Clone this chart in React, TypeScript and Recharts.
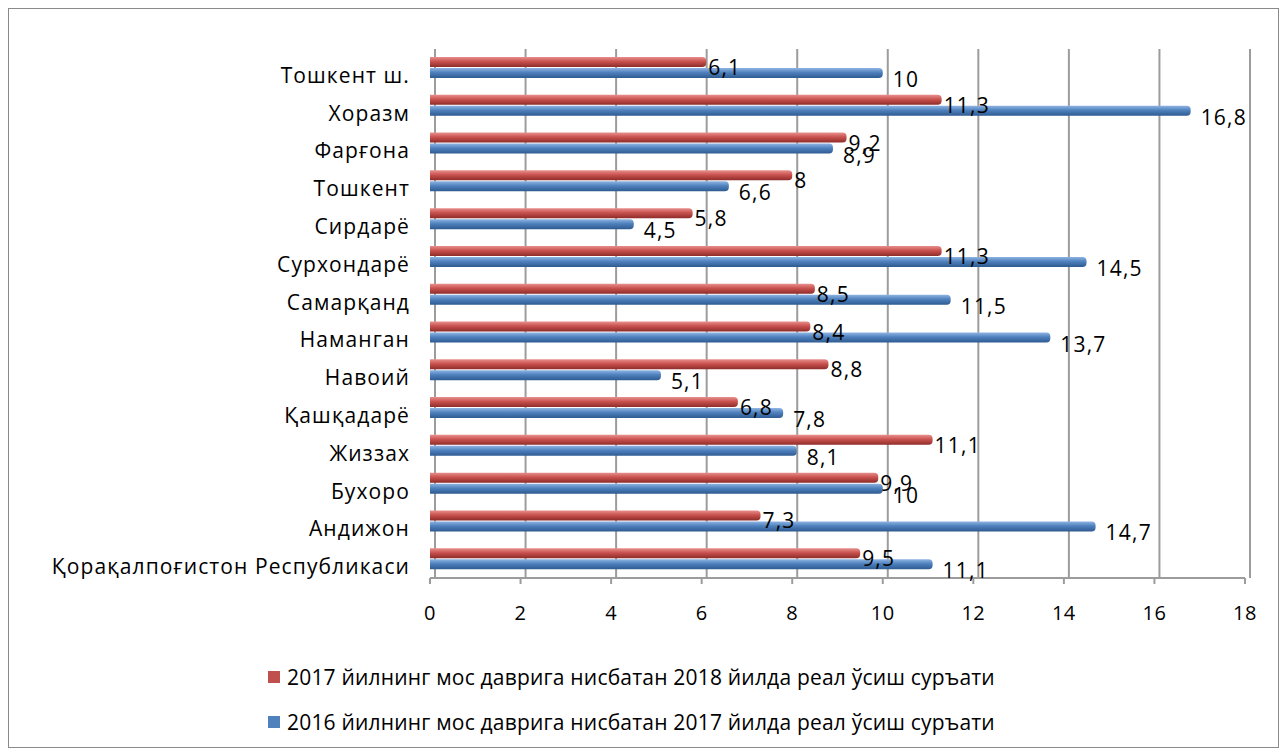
import React from 'react';
import { BarChart, Bar, XAxis, YAxis, CartesianGrid, Legend, LabelList } from 'recharts';

const categories = [
  'Тошкент ш.',
  'Хоразм',
  'Фарғона',
  'Тошкент',
  'Сирдарё',
  'Сурхондарё',
  'Самарқанд',
  'Наманган',
  'Навоий',
  'Қашқадарё',
  'Жиззах',
  'Бухоро',
  'Андижон',
  'Қорақалпоғистон Республикаси',
];
const series2018 = [6.1, 11.3, 9.2, 8, 5.8, 11.3, 8.5, 8.4, 8.8, 6.8, 11.1, 9.9, 7.3, 9.5];
const series2017 = [10, 16.8, 8.9, 6.6, 4.5, 14.5, 11.5, 13.7, 5.1, 7.8, 8.1, 10, 14.7, 11.1];
const seriesNames = [
  '2017 йилнинг мос даврига нисбатан 2018 йилда реал ўсиш суръати',
  '2016 йилнинг мос даврига нисбатан 2017 йилда реал ўсиш суръати',
];
const xTicks = [0, 2, 4, 6, 8, 10, 12, 14, 16, 18];
const xMax = 18;
const frameTicks = [0, 1, 2, 3, 4, 5, 6, 7, 8, 9, 10, 11, 12, 13, 14];

const data = categories.map((c, i) => ({ name: c, a: series2018[i], b: series2017[i] }));

const FONT = '"Open Sans", "Noto Sans", sans-serif';
const RED = '#C0504D';
const BLUE = '#4F81BD';
const GRID = '#9C9C9C';

const fmt = (v: number) => String(v).replace('.', ',');

const makeLabel = (offset: number, dy: number) => (props: any) => {
  const { x, y, width, height, value } = props;
  return (
    <text
      x={Number(x) + Number(width) + offset}
      y={Number(y) + Number(height) / 2 + dy}
      fontFamily={FONT}
      fontSize={21}
      letterSpacing={1.2}
      fill="#000"
      textAnchor="start"
      dominantBaseline="central"
    >
      {fmt(value)}
    </text>
  );
};

const CatTick = (props: any) => {
  const { x, y, payload } = props;
  return (
    <text
      x={x}
      y={y + 7}
      fontFamily={FONT}
      fontSize={21}
      letterSpacing={1.1}
      fill="#000"
      textAnchor="end"
      dominantBaseline="central"
    >
      {payload.value}
    </text>
  );
};

const renderLegend = () => (
  <div style={{ height: 109, position: 'relative', fontFamily: FONT, fontSize: 21, letterSpacing: 0.2, color: '#000' }}>
    <div style={{ position: 'absolute', left: 259, top: 25 }}>
      {[RED, BLUE].map((col, i) => (
        <div key={i} style={{ display: 'flex', alignItems: 'center', height: 28, marginBottom: 17, whiteSpace: 'nowrap' }}>
          <span style={{ display: 'inline-block', width: 12, height: 12, background: col, marginRight: 7 }} />
          <span>{seriesNames[i]}</span>
        </div>
      ))}
    </div>
  </div>
);

export default function App() {
  const gridGen = (props: any) => {
    const off = props && props.offset;
    if (!off) return [];
    return xTicks.map((t) => off.left + (t / xMax) * off.width + 5);
  };
  return (
    <div
      style={{
        width: 1271,
        height: 740,
        border: '1px solid #8a8a8a',
        boxSizing: 'border-box',
        background: '#fff',
      }}
    >
      <BarChart
        width={1269}
        height={738}
        data={data}
        layout="vertical"
        margin={{ top: 40, right: 33, bottom: 0, left: 0 }}
        barSize={10}
        barGap={1}
      >
        <defs>
          <linearGradient id="gRed" x1="0" y1="0" x2="0" y2="1">
            <stop offset="0%" stopColor="#E8908D" />
            <stop offset="45%" stopColor="#C9524F" />
            <stop offset="100%" stopColor="#8E2C2A" />
          </linearGradient>
          <linearGradient id="gBlue" x1="0" y1="0" x2="0" y2="1">
            <stop offset="0%" stopColor="#8FB4E3" />
            <stop offset="45%" stopColor="#4F81BD" />
            <stop offset="100%" stopColor="#2E5A91" />
          </linearGradient>
        </defs>
        <CartesianGrid
          horizontal={false}
          vertical={true}
          stroke={GRID}
          strokeWidth={2}
          verticalCoordinatesGenerator={gridGen}
        />
        <XAxis
          type="number"
          domain={[0, xMax]}
          ticks={xTicks}
          interval={0}
          height={60}
          axisLine={{ stroke: GRID, strokeWidth: 2 }}
          tickLine={{ stroke: GRID, strokeWidth: 2 }}
          tickSize={6}
          tickMargin={22}
          tick={{ fontFamily: FONT, fontSize: 20, letterSpacing: 0.5, fill: '#000' }}
        />
        <YAxis
          yAxisId="frame"
          type="number"
          domain={[0, 14]}
          ticks={frameTicks}
          interval={0}
          width={0}
          tick={false}
          tickSize={6}
          axisLine={{ stroke: GRID, strokeWidth: 2 }}
          tickLine={{ stroke: GRID, strokeWidth: 2 }}
        />
        <YAxis
          type="category"
          dataKey="name"
          width={421}
          interval={0}
          axisLine={false}
          tickLine={false}
          tickSize={0}
          tickMargin={20}
          tick={<CatTick />}
        />
        <Legend verticalAlign="bottom" content={renderLegend} />
        <Bar dataKey="a" name={seriesNames[0]} fill="url(#gRed)" radius={[0, 4, 4, 0]} isAnimationActive={false}>
          <LabelList dataKey="a" content={makeLabel(2, 5)} />
        </Bar>
        <Bar dataKey="b" name={seriesNames[1]} fill="url(#gBlue)" radius={[0, 4, 4, 0]} isAnimationActive={false}>
          <LabelList dataKey="b" content={makeLabel(10, 6)} />
        </Bar>
      </BarChart>
    </div>
  );
}
